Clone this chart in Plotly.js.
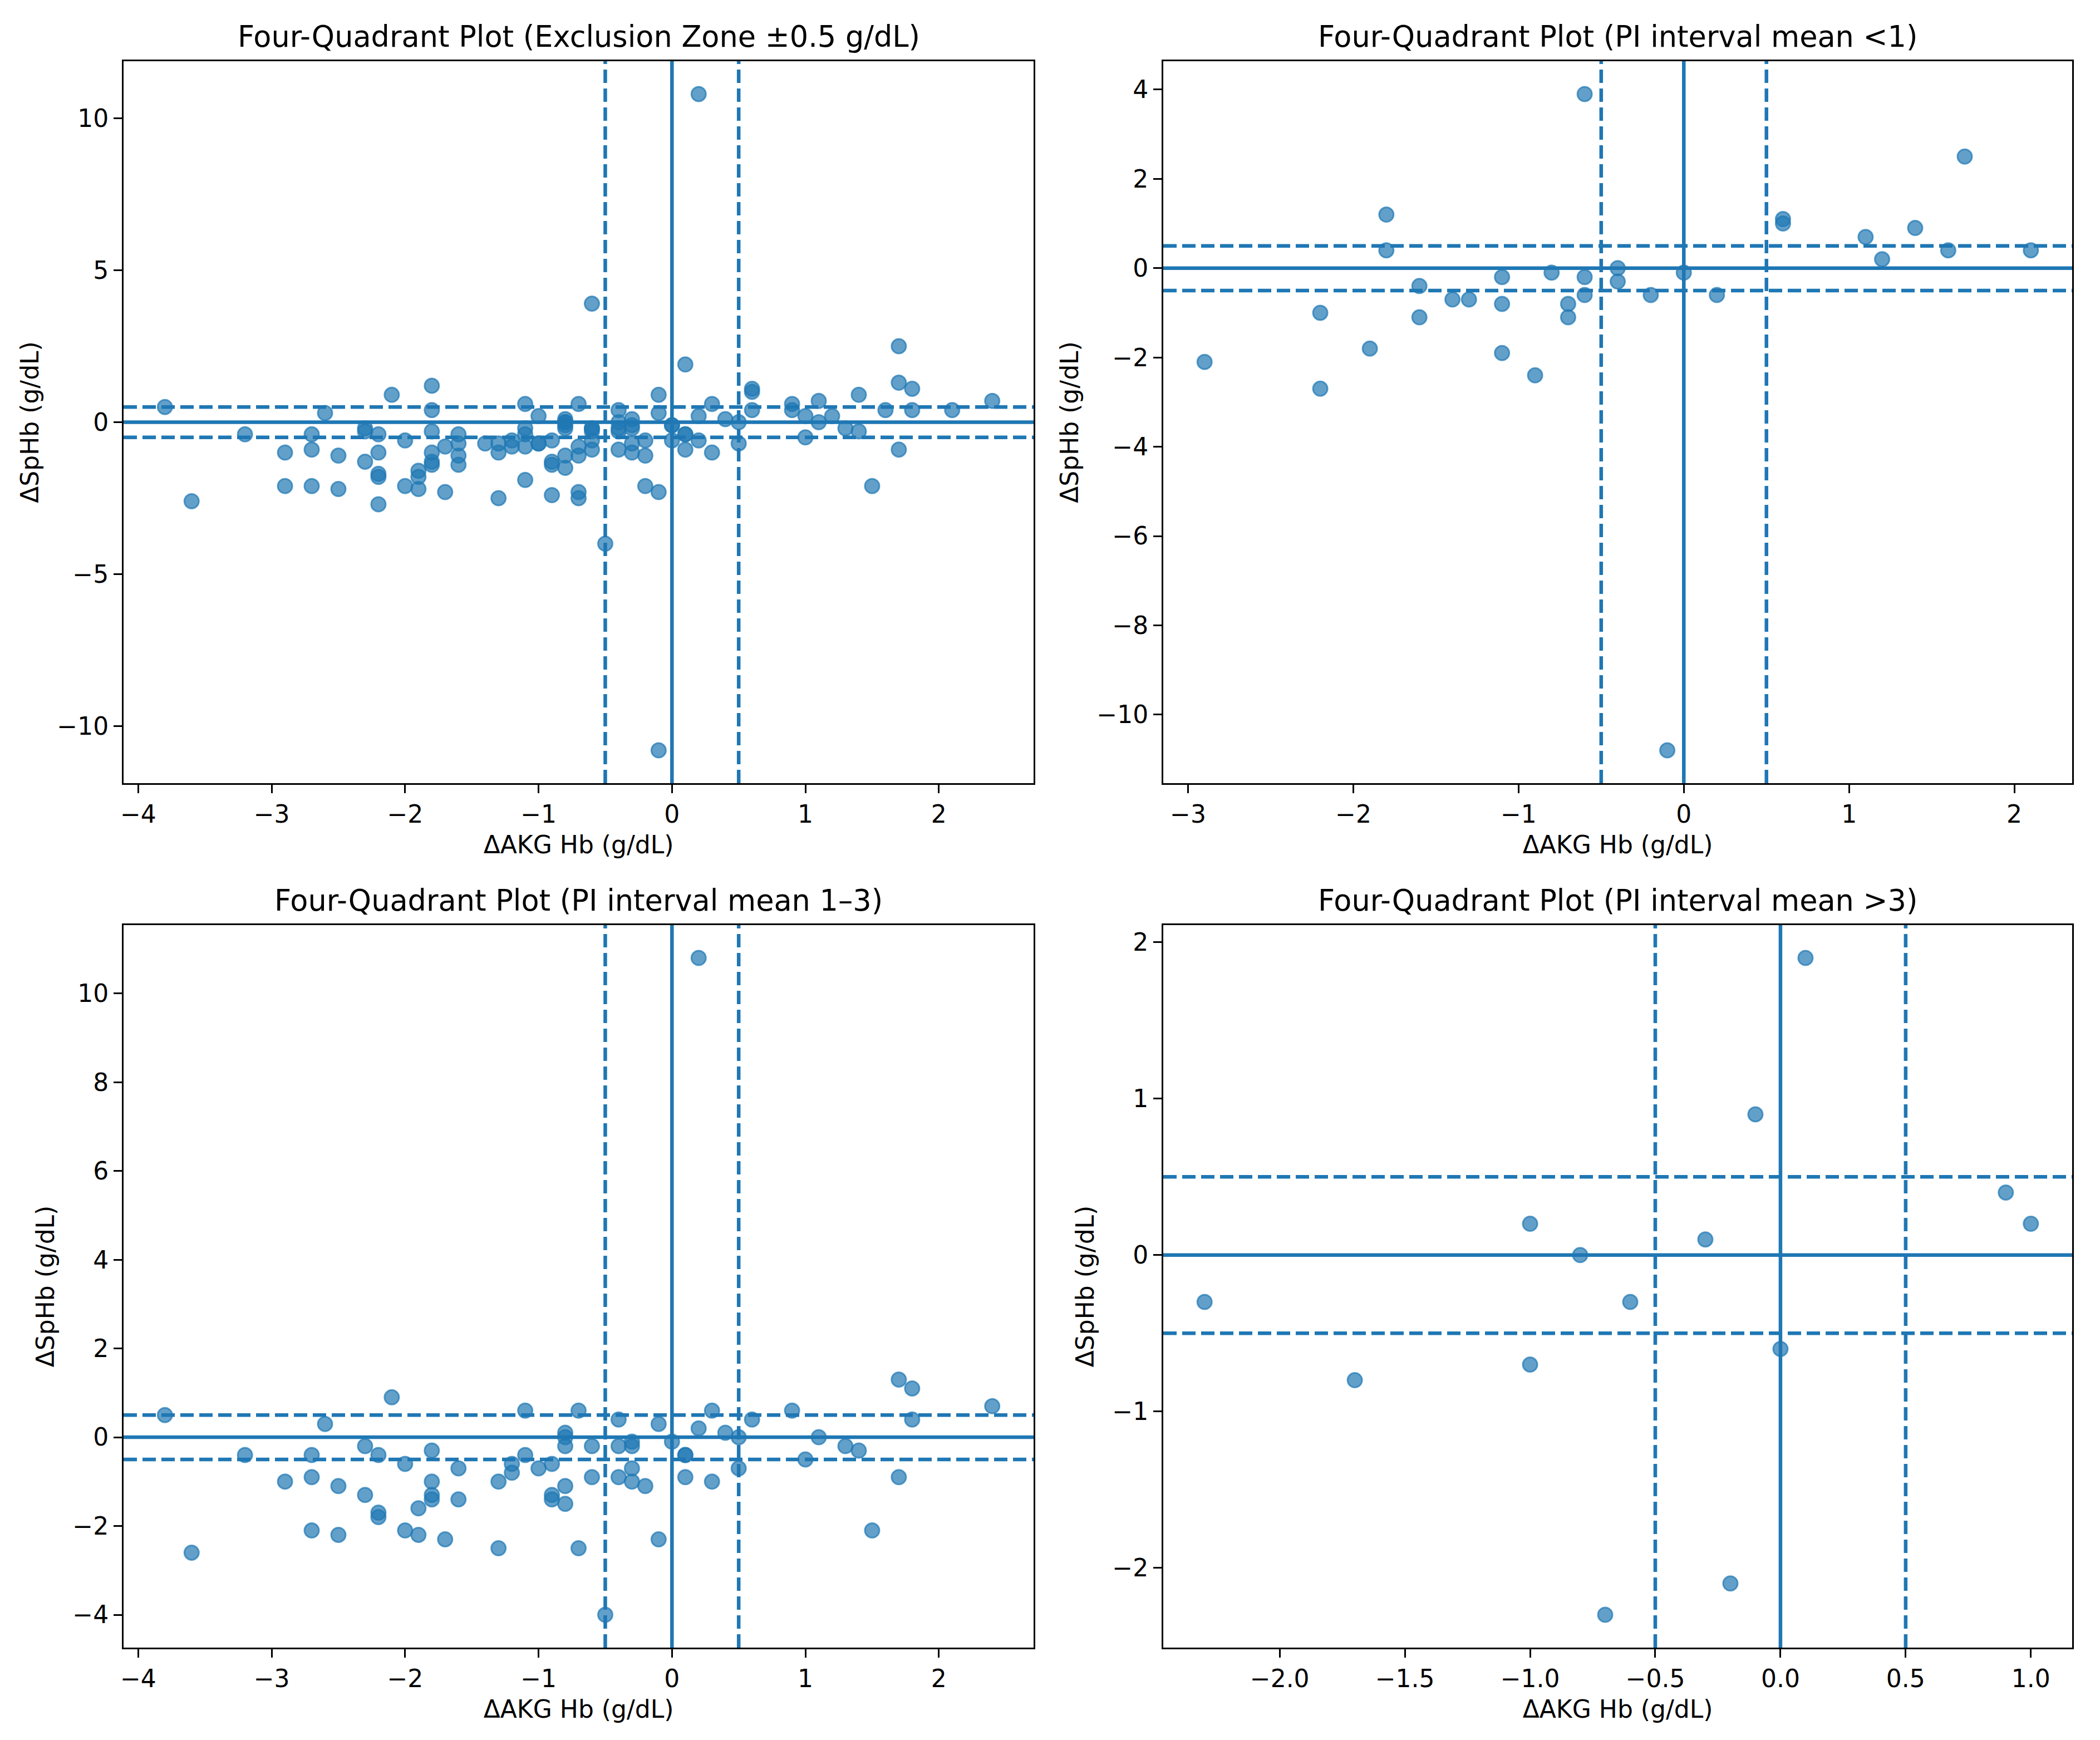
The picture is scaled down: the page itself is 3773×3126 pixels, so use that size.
<!DOCTYPE html>
<html>
<head>
<meta charset="utf-8">
<script src="https://cdn.plot.ly/plotly-3.0.1.min.js"></script>
<style>
  html, body { margin: 0; padding: 0; background: #fff; }
  #chart { width: 3773px; height: 3126px; }
</style>
</head>
<body>
<div id="chart"></div>
<script>
// PI interval mean < 1
const piLowX = [-2.9, -2.2, -2.2, -1.9, -1.8, -1.8, -1.6, -1.6, -1.4, -1.3, -1.1, -1.1, -1.1,
  -0.9, -0.8, -0.7, -0.7, -0.6, -0.6, -0.6, -0.4, -0.4, -0.2, -0.1, 0.0, 0.2, 0.6, 0.6,
  1.1, 1.2, 1.4, 1.6, 1.7, 2.1];
const piLowY = [-2.1, -1.0, -2.7, -1.8, 1.2, 0.4, -0.4, -1.1, -0.7, -0.7, -0.2, -0.8, -1.9,
  -2.4, -0.1, -0.8, -1.1, 3.9, -0.2, -0.6, 0.0, -0.3, -0.6, -10.8, -0.1, -0.6, 1.1, 1.0,
  0.7, 0.2, 0.9, 0.4, 2.5, 0.4];

// PI interval mean 1-3
const piMidX = [-3.8, -3.6, -3.2, -2.9, -2.7, -2.7, -2.7, -2.6, -2.5, -2.5, -2.3, -2.3, -2.2,
  -2.2, -2.2, -2.1, -2.0, -2.0, -1.9, -1.9, -1.8, -1.8, -1.8, -1.8, -1.7, -1.6, -1.6, -1.3,
  -1.3, -1.2, -1.2, -1.1, -1.1, -1.0, -0.9, -0.9, -0.9, -0.8, -0.8, -0.8, -0.8, -0.8, -0.7,
  -0.7, -0.6, -0.6, -0.5, -0.4, -0.4, -0.4, -0.3, -0.3, -0.3, -0.3, -0.2, -0.1, -0.1, 0.0,
  0.1, 0.1, 0.1, 0.2, 0.2, 0.3, 0.3, 0.4, 0.5, 0.5, 0.6, 0.9, 1.0, 1.1, 1.3, 1.4, 1.5, 1.7,
  1.7, 1.8, 1.8, 2.4];
const piMidY = [0.5, -2.6, -0.4, -1.0, -0.4, -0.9, -2.1, 0.3, -1.1, -2.2, -0.2, -1.3, -0.4,
  -1.7, -1.8, 0.9, -0.6, -2.1, -1.6, -2.2, -0.3, -1.0, -1.3, -1.4, -2.3, -0.7, -1.4, -1.0,
  -2.5, -0.6, -0.8, 0.6, -0.4, -0.7, -0.6, -1.3, -1.4, 0.1, 0.0, -0.2, -1.1, -1.5, 0.6,
  -2.5, -0.2, -0.9, -4.0, 0.4, -0.2, -0.9, -0.1, -0.2, -0.7, -1.0, -1.1, 0.3, -2.3, -0.1,
  -0.4, -0.4, -0.9, 10.8, 0.2, 0.6, -1.0, 0.1, 0.0, -0.7, 0.4, 0.6, -0.5, 0.0, -0.2, -0.3,
  -2.1, 1.3, -0.9, 1.1, 0.4, 0.7];

// PI interval mean > 3
const piHighX = [-2.3, -1.7, -1.0, -1.0, -0.8, -0.7, -0.6, -0.3, -0.2, -0.1, 0.0, 0.1, 0.9, 1.0];
const piHighY = [-0.3, -0.8, 0.2, -0.7, 0.0, -2.3, -0.3, 0.1, -2.1, 0.9, -0.6, 1.9, 0.4, 0.2];

// all pairs together (top-left panel)
const allX = piMidX.concat(piLowX, piHighX);
const allY = piMidY.concat(piLowY, piHighY);

const zone = 0.5;
const refLines = [0];

const titles = [
  "Four-Quadrant Plot (Exclusion Zone \u00b10.5 g/dL)",
  "Four-Quadrant Plot (PI interval mean <1)",
  "Four-Quadrant Plot (PI interval mean 1\u20133)",
  "Four-Quadrant Plot (PI interval mean >3)",
];

const blue = "#1f77b4";
const font = "DejaVu Sans, Liberation Sans, sans-serif";
const W = 3773, H = 3126;

// panel boxes in pixels (left, right, top, bottom)
const boxes = [
  [222, 1857, 110, 1407],
  [2090, 3723, 110, 1407],
  [222, 1857, 1662, 2960],
  [2090, 3723, 1662, 2960],
];

const panels = [
  { x: allX, y: allY, xr: [-4.11, 2.71], yr: [-11.88, 11.88], xd: 1, yd: 5, fmt: "" },
  { x: piLowX, y: piLowY, xr: [-3.15, 2.35], yr: [-11.535, 4.635], xd: 1, yd: 2, fmt: "" },
  { x: piMidX, y: piMidY, xr: [-4.11, 2.71], yr: [-4.74, 11.54], xd: 1, yd: 2, fmt: "" },
  { x: piHighX, y: piHighY, xr: [-2.465, 1.165], yr: [-2.51, 2.11], xd: 0.5, yd: 1, fmt: ".1f" },
];

const traces = [];
const layout = {
  width: W,
  height: H,
  margin: { l: 0, r: 0, t: 0, b: 0 },
  paper_bgcolor: "#fff",
  plot_bgcolor: "#fff",
  showlegend: false,
  font: { family: font, color: "#000" },
  shapes: [],
  annotations: [],
};

panels.forEach((p, i) => {
  const n = i === 0 ? "" : String(i + 1);
  const b = boxes[i];
  traces.push({
    type: "scatter",
    mode: "markers",
    x: p.x,
    y: p.y,
    xaxis: "x" + n,
    yaxis: "y" + n,
    marker: {
      size: 26,
      color: "rgba(31,119,180,0.7)",
      line: { color: "rgba(31,119,180,0.7)", width: 3 },
    },
    hoverinfo: "x+y",
  });

  const axBase = {
    showgrid: false,
    zeroline: false,
    showline: true,
    mirror: true,
    linecolor: "#000",
    linewidth: 3,
    ticks: "outside",
    ticklen: 15,
    tickwidth: 3,
    tickcolor: "#000",
    tickfont: { size: 44, family: font, color: "#000" },
    tickmode: "linear",
  };

  layout["xaxis" + n] = Object.assign({}, axBase, {
    domain: [b[0] / W, b[1] / W],
    anchor: "y" + n,
    range: p.xr,
    tick0: 0,
    dtick: p.xd,
    tickformat: p.fmt,
    title: { text: "\u0394AKG Hb (g/dL)", font: { size: 44, family: font }, standoff: 16 },
  });
  layout["yaxis" + n] = Object.assign({}, axBase, {
    domain: [1 - b[3] / H, 1 - b[2] / H],
    anchor: "x" + n,
    range: p.yr,
    tick0: 0,
    dtick: p.yd,
    title: { text: "\u0394SpHb (g/dL)", font: { size: 44, family: font }, standoff: 19 },
  });

  const xr = "x" + n, yr = "y" + n;
  // exclusion zone (dashed) and zero lines (solid)
  [-zone, zone].forEach((v) => {
    layout.shapes.push({ type: "line", xref: xr + " domain", yref: yr, x0: 0, x1: 1, y0: v, y1: v,
      line: { color: blue, width: 6.5, dash: "24px,10px" } });
    layout.shapes.push({ type: "line", xref: xr, yref: yr + " domain", x0: v, x1: v, y0: 0, y1: 1,
      line: { color: blue, width: 6.5, dash: "24px,10px" } });
  });
  refLines.forEach((v) => {
    layout.shapes.push({ type: "line", xref: xr + " domain", yref: yr, x0: 0, x1: 1, y0: v, y1: v,
      line: { color: blue, width: 6.5 } });
    layout.shapes.push({ type: "line", xref: xr, yref: yr + " domain", x0: v, x1: v, y0: 0, y1: 1,
      line: { color: blue, width: 6.5 } });
  });

  layout.annotations.push({
    text: titles[i],
    xref: "paper",
    yref: "paper",
    x: (b[0] + b[1]) / 2 / W,
    y: 1 - (b[2] - 12) / H,
    xanchor: "center",
    yanchor: "bottom",
    showarrow: false,
    font: { size: 52.5, family: font, color: "#000" },
  });
});

Plotly.newPlot("chart", traces, layout, { displayModeBar: false, staticPlot: true });
</script>
</body>
</html>
